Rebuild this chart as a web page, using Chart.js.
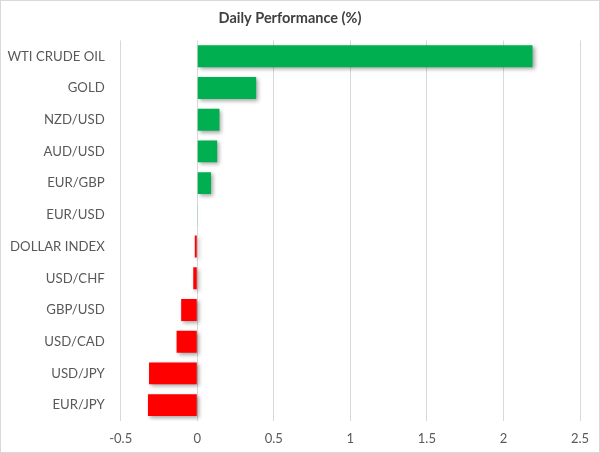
<!DOCTYPE html>
<html><head><meta charset="utf-8">
<script src="https://cdn.jsdelivr.net/npm/chart.js@4"></script>
<style>html,body{margin:0;padding:0;background:#fff}#wrap{width:600px;height:453px;position:relative}</style>
</head><body><div id="wrap"><canvas id="c" width="600" height="453"></canvas></div>
<script>
const categories = ["WTI CRUDE OIL","GOLD","NZD/USD","AUD/USD","EUR/GBP","EUR/USD","DOLLAR INDEX","USD/CHF","GBP/USD","USD/CAD","USD/JPY","EUR/JPY"];
const values = [2.19, 0.385, 0.145, 0.13, 0.09, 0.004, -0.016, -0.026, -0.105, -0.135, -0.315, -0.322];
const xTicks = [-0.5, 0, 0.5, 1, 1.5, 2, 2.5];
const POS = "#00B050", NEG = "#FF0000";

const shadowPlugin = {
  id: "shadow",
  beforeDatasetsDraw(chart){ const c=chart.ctx; c.save(); c.shadowColor="rgba(0,0,0,0.35)"; c.shadowBlur=4; c.shadowOffsetX=2; c.shadowOffsetY=2; },
  afterDatasetsDraw(chart){ chart.ctx.restore(); }
};
const borderPlugin = {
  id: "border",
  afterDraw(chart){ const c=chart.ctx; c.save(); c.strokeStyle="#d9d9d9"; c.lineWidth=1; c.strokeRect(0.5,0.5,chart.width-1,chart.height-1); c.restore(); }
};

new Chart(document.getElementById("c"), {
  type: "bar",
  data: { labels: categories, datasets: [{ data: values,
    backgroundColor: values.map(v => v >= 0 ? POS : NEG),
    barPercentage: 1, categoryPercentage: 0.69, borderWidth: 0 }] },
  options: {
    indexAxis: "y", responsive: false, animation: false, devicePixelRatio: 1,
    layout: { padding: { left: 0, right: 20, top: 0, bottom: 0 } },
    plugins: {
      legend: { display: false }, tooltip: { enabled: false },
      title: { display: true, text: "Daily Performance (%)", color: "#404040",
        font: { family: "Lato", size: 14.5, weight: "bold" }, padding: { top: 10, bottom: 13 } }
    },
    scales: {
      x: { min: -0.5, max: 2.5, afterBuildTicks(s){ s.ticks = xTicks.map(v => ({ value: v })); },
        grid: { color: "#d9d9d9", drawTicks: false }, border: { display: false },
        ticks: { color: "#595959", font: { family: "Lato", size: 13 }, padding: 10, maxRotation: 0,
          callback: v => String(v) },
        afterFit(s){ s.height = 32; } },
      y: { grid: { display: false }, border: { display: false },
        ticks: { color: "#595959", font: { family: "Lato", size: 13.2 }, padding: 8 },
        afterFit(s){ s.width = 120.7; } }
    }
  },
  plugins: [shadowPlugin, borderPlugin]
});
</script></body></html>
